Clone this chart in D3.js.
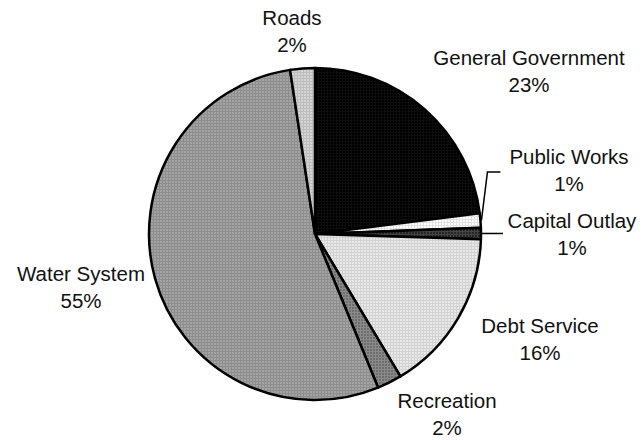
<!DOCTYPE html>
<html>
<head>
<meta charset="utf-8">
<style>
  body { margin: 0; background: #fff; }
  svg { display: block; }
  text { font-family: "Liberation Sans", Arial, sans-serif; font-size: 20.5px; fill: #111; }
</style>
</head>
<body>
<div id="chart"></div>
<script src="https://d3js.org/d3.v7.min.js"></script>
<script>
// slices, clockwise from 12 o'clock
const categories = ['General Government', 'Public Works', 'Capital Outlay', 'Debt Service', 'Recreation', 'Water System', 'Roads'];
const values = [23.0, 1.4, 1.1, 15.9, 2.4, 53.8, 2.4];
const pctLabels = ['23%', '1%', '1%', '16%', '2%', '55%', '2%'];

const width = 644, height = 440;
const cx = 315, cy = 234, radius = 166;

// base colour + dot colour for each slice's fine pattern
const fills = [
    ['#000000', '#0c0c0c'],
    ['#ffffff', '#e2e2e2'],
    ['#262626', '#454545'],
    ['#e8e8e8', '#d2d2d2'],
    ['#6e6e6e', '#8a8a8a'],
    ['#a4a4a4', '#8e8e8e'],
    ['#d4d4d4', '#bdbdbd']
];

// label centre positions (x, first baseline)
const labelPos = [
    [529, 65], [569, 164], [572, 228], [540, 333], [447, 408], [81, 281], [292, 25]
];
const lineGap = 27;

const svg = d3.select('#chart').append('svg')
    .attr('width', width)
    .attr('height', height);

const defs = svg.append('defs');
fills.forEach((f, i) => {
    const p = defs.append('pattern')
        .attr('id', 'pat' + i)
        .attr('width', 3)
        .attr('height', 3)
        .attr('patternUnits', 'userSpaceOnUse');
    p.append('rect').attr('width', 3).attr('height', 3).attr('fill', f[0]);
    p.append('rect').attr('width', 1).attr('height', 3).attr('fill', f[1]);
    p.append('rect').attr('width', 3).attr('height', 1).attr('fill', f[1]);
});

const pie = d3.pie().sort(null).value(d => d);
const arcs = pie(values);
const arc = d3.arc().innerRadius(0).outerRadius(radius);

const g = svg.append('g').attr('transform', `translate(${cx},${cy})`);

g.selectAll('path')
    .data(arcs)
    .join('path')
    .attr('d', arc)
    .attr('fill', (d, i) => `url(#pat${i})`)
    .attr('stroke', '#000')
    .attr('stroke-width', 2.5)
    .attr('stroke-linejoin', 'round');

// leader lines for the two thin slices
const edgePoint = (d, r) => {
    const a = (d.startAngle + d.endAngle) / 2;
    return [cx + r * Math.sin(a), cy - r * Math.cos(a)];
};
const pw = edgePoint(arcs[1], radius);
const co = edgePoint(arcs[2], radius);
svg.append('path')
    .attr('d', d3.line()([[pw[0] + 1, pw[1]], [pw[0] + 7, 172], [pw[0] + 20, 172]]))
    .attr('fill', 'none')
    .attr('stroke', '#000')
    .attr('stroke-width', 1.5);
svg.append('path')
    .attr('d', d3.line()([[co[0], co[1]], [co[0] + 22, co[1]]]))
    .attr('fill', 'none')
    .attr('stroke', '#000')
    .attr('stroke-width', 1.5);

const labels = svg.append('g');
categories.forEach((c, i) => {
    const t = labels.append('text')
        .attr('text-anchor', 'middle')
        .attr('x', labelPos[i][0])
        .attr('y', labelPos[i][1]);
    t.append('tspan').attr('x', labelPos[i][0]).text(c);
    t.append('tspan').attr('x', labelPos[i][0]).attr('dy', lineGap).text(pctLabels[i]);
});
</script>
</body>
</html>
